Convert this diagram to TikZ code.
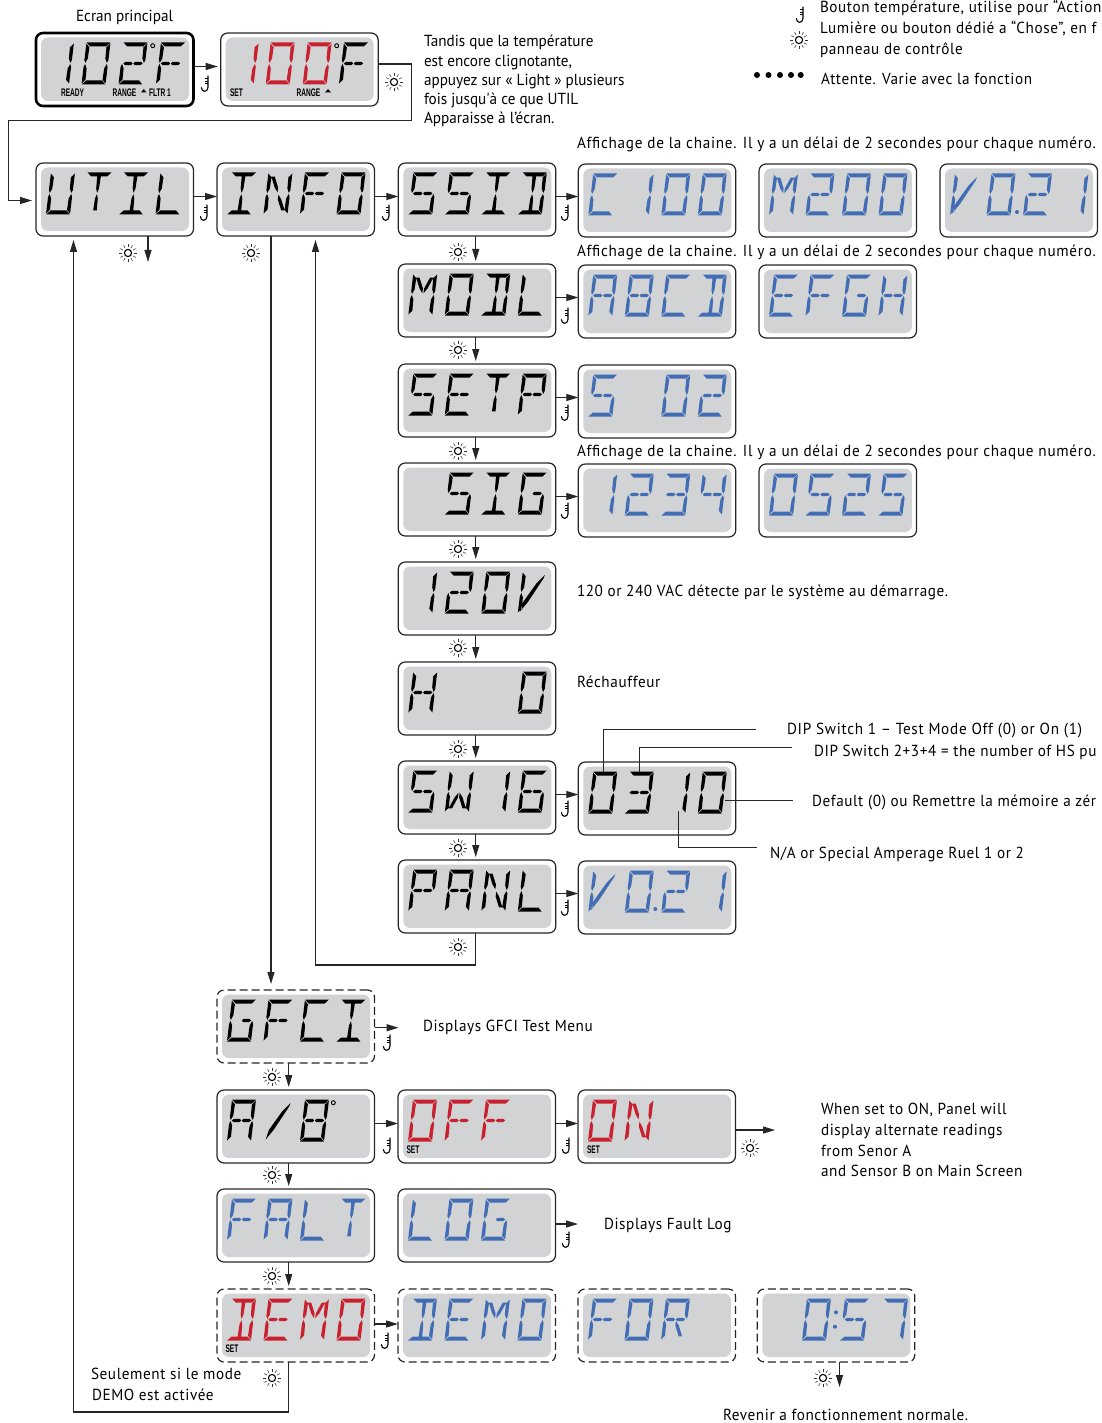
\documentclass[tikz,border=0pt]{standalone}
\usepackage{fontspec}
\usetikzlibrary{arrows.meta}
\setmainfont[FakeStretch=0.95,LetterSpace=3.7]{PT Sans}
\newfontfamily\narrowfont[FakeStretch=0.95]{PT Sans}
\newfontfamily\widefont[FakeStretch=0.95,LetterSpace=4.5]{PT Sans}
\newfontfamily\tagfont[FakeStretch=0.6]{Liberation Sans}
\definecolor{lcdgrey}{HTML}{D1D3D4}
\definecolor{lcdblue}{HTML}{426DB4}
\definecolor{lcdred}{HTML}{C8202E}
\tikzset{
  x=1pt,y=-1pt,
  every node/.style={inner sep=0pt,outer sep=0pt},
  panel/.style={draw=black!85,line width=1.2pt,rounded corners=7pt,minimum width=157.5pt,minimum height=73pt,shape=rectangle},
  mainpanel/.style={panel,line width=2.6pt,draw=black},
  dashpanel/.style={panel,dash pattern=on 8pt off 4pt},
  link/.style={line width=1.1pt,draw=black!85},
  arr/.style={link,-{Triangle[length=12pt,width=7pt]}},
  callout/.style={line width=.8pt,draw=black!85},
  hookline/.style={line width=1.1pt,draw=black,line cap=round},
  rayline/.style={line width=.6pt,draw=black!80},
  body/.style={anchor=base west,font=\fontsize{16}{18}\selectfont,text=black},
  tag/.style={anchor=base west,font=\tagfont\bfseries\fontsize{11}{11}\selectfont,text=black},
}
% --- segments (local coords: width 24, height 42, top-left origin)
\def\sa{(0.2,0)--(23.8,0)--(20.2,4)--(4.2,4)--cycle }
\def\sd{(0.2,42)--(23.8,42)--(20.2,38)--(4.2,38)--cycle }
\def\sf{(0,1)--(3.5,4.8)--(3.2,16)--(1.2,20.5)--(0,17.5)--cycle }
\def\se{(0,24.5)--(1.2,21.5)--(3.2,26)--(3.5,37.2)--(0,41)--cycle }
\def\sb{(24,1)--(20.5,4.8)--(20.8,16)--(22.8,20.5)--(24,17.5)--cycle }
\def\sc{(24,24.5)--(22.8,21.5)--(20.8,26)--(20.5,37.2)--(24,41)--cycle }
\def\sgl{(2.4,21)--(4.2,19.4)--(10.2,19.4)--(11.6,21)--(10.2,22.6)--(4.2,22.6)--cycle }
\def\sgr{(12.4,21)--(13.8,19.4)--(19.8,19.4)--(21.6,21)--(19.8,22.6)--(13.8,22.6)--cycle }
\def\sh{(10.2,4.2)--(13.8,4.2)--(13.4,16)--(12,20.3)--(10.6,16)--cycle }
\def\sm{(12,21.7)--(13.4,26)--(13.8,37.8)--(10.2,37.8)--(10.6,26)--cycle }
\def\sk{(3.4,4.2)--(6.8,4.2)--(11.4,15)--(11.4,19.8)--(8,15)--cycle }
\def\sr{(20.6,4.2)--(17.2,4.2)--(12.6,15)--(12.6,19.8)--(16,15)--cycle }
\def\ss{(3.4,37.8)--(6.8,37.8)--(11.4,27)--(11.4,22.2)--(8,27)--cycle }
\def\st{(20.6,37.8)--(17.2,37.8)--(12.6,27)--(12.6,22.2)--(16,27)--cycle }
\def\sslash{(2,40)--(9,30)--(21.5,7)--(22.5,3.5)--(15,12)--(4,30.5)--cycle }
\expandafter\def\csname ch-\endcsname{}
\expandafter\def\csname ch0\endcsname{\sa\sb\sc\sd\se\sf}
\expandafter\def\csname ch1\endcsname{\sb\sc}
\expandafter\def\csname ch2\endcsname{\sa\sb\sgl\sgr\se\sd}
\expandafter\def\csname ch3\endcsname{\sa\sb\sgl\sgr\sc\sd}
\expandafter\def\csname ch4\endcsname{\sf\sgl\sgr\sb\sc}
\expandafter\def\csname ch5\endcsname{\sa\sf\sgl\sgr\sc\sd}
\expandafter\def\csname ch6\endcsname{\sa\sf\se\sd\sc\sgl\sgr}
\expandafter\def\csname ch7\endcsname{\sa\sb\sc}
\expandafter\def\csname chA\endcsname{\sa\sb\sc\se\sf\sgl\sgr}
\expandafter\def\csname chB\endcsname{\sa\sb\sc\sd\se\sf\sgl\sgr}
\expandafter\def\csname chC\endcsname{\sa\sd\se\sf}
\expandafter\def\csname chD\endcsname{\sa\sb\sc\sd\sh\sm}
\expandafter\def\csname chE\endcsname{\sa\sd\se\sf\sgl\sgr}
\expandafter\def\csname chF\endcsname{\sa\se\sf\sgl\sgr}
\expandafter\def\csname chG\endcsname{\sa\sc\sd\se\sf\sgr}
\expandafter\def\csname chH\endcsname{\sb\sc\se\sf\sgl\sgr}
\expandafter\def\csname chI\endcsname{\sa\sd\sh\sm}
\expandafter\def\csname chL\endcsname{\sd\se\sf}
\expandafter\def\csname chM\endcsname{\sb\sc\se\sf\sk\sr}
\expandafter\def\csname chN\endcsname{\sb\sc\se\sf\sk\st}
\expandafter\def\csname chO\endcsname{\sa\sb\sc\sd\se\sf}
\expandafter\def\csname chP\endcsname{\sa\sb\se\sf\sgl\sgr}
\expandafter\def\csname chR\endcsname{\sa\sb\se\sf\sgl\sgr\st}
\expandafter\def\csname chS\endcsname{\sa\sf\sgl\sgr\sc\sd}
\expandafter\def\csname chT\endcsname{\sa\sh\sm}
\expandafter\def\csname chU\endcsname{\sb\sc\sd\se\sf}
\expandafter\def\csname chV\endcsname{\sf\se\sslash}
\expandafter\def\csname chW\endcsname{\sb\sc\se\sf\ss\st}
\expandafter\def\csname ch/\endcsname{\sslash}
% \digit{x}{y}{colour}{char}
\newcommand\digit[4]{%
  \expandafter\let\expandafter\curpath\csname ch#4\endcsname
  \fill[#3,shift={(#1,#2)},xslant=0.12] \curpath;}
% \panelbox{name}{x}{y}{style}
\newcommand\panelbox[4]{%
  \node[#4] (#1) at (#2+78.75,#3+36.5) {};
  \fill[lcdgrey,rounded corners=7pt] (#2+5,#3+4.5) rectangle (#2+153,#3+68);}
% \lcd{name}{x}{y}{style}{colour}{c1}{c2}{c3}{c4}
\newcommand\lcd[9]{%
  \panelbox{#1}{#2}{#3}{#4}%
  \digit{#2+15}{#3+9.5}{#5}{#6}%
  \digit{#2+51.5}{#3+9.5}{#5}{#7}%
  \digit{#2+88}{#3+9.5}{#5}{#8}%
  \digit{#2+124.5}{#3+9.5}{#5}{#9}}
\newcount\txtno
\newcommand\body[3]{\global\advance\txtno by 1 \node[body] (txt\the\txtno) at (#1,#2) {#3};}
\newcommand\tagt[3]{\global\advance\txtno by 1 \node[tag] (txt\the\txtno) at (#1,#2) {#3};}
% hook (temperature button) icon, centre x,y
\newcommand\hook[2]{\begin{scope}[shift={(#1,#2)}]
  \draw[hookline] (3,-8) -- (3,3.2) .. controls (3,8.6) and (-3.6,8.6) .. (-3.6,3.6);
  \draw[line width=.6pt] (0.4,-5.5)--(3,-5.5) (0.4,-3)--(3,-3) (0.4,-0.5)--(3,-0.5);
  \end{scope}}
% sun (light button) icon, centre x,y
\newcommand\sun[2]{\begin{scope}[shift={(#1,#2)}]
  \draw[line width=1.1pt] (0,0) circle[radius=3.6];
  \foreach \a in {0,30,...,330} \draw[rayline] (\a:6) -- (\a:8.8);
  \end{scope}}
\newcommand\harrow[2]{\draw[arr] ([yshift=3pt]#1.east) -- ([yshift=3pt]#1.east -| #2.west);}
\newcommand\varrow[2]{\draw[arr,shorten >=3pt] ([xshift=-1.3pt]#1.south) -- ([xshift=-1.3pt]#1.south |- #2.north);}
\begin{document}
\begin{tikzpicture}
\useasboundingbox (0,0) rectangle (1101,1423);
% --- top row
\panelbox{main}{36}{33}{mainpanel}
\digit{50}{42.5}{black}{1}\digit{86.5}{42.5}{black}{0}\digit{123.5}{42.5}{black}{2}\digit{161}{42.5}{black}{F}
\draw[line width=.9pt] (152.7,45.7) circle[radius=2];
\tagt{61}{97}{READY}\tagt{112.5}{97}{RANGE}\tagt{149}{97}{FLTR\,1}
\fill (141,92.5)--(146.5,92.5)--(143.7,89)--cycle;
\panelbox{setp}{220.7}{33}{panel}
\digit{234.7}{42.5}{lcdred}{1}\digit{270.7}{42.5}{lcdred}{0}\digit{307.7}{42.5}{lcdred}{0}\digit{344}{42.5}{black}{F}
\draw[line width=.9pt] (336.7,45.7) circle[radius=2];
\tagt{230}{97}{SET}\tagt{296.5}{97}{RANGE}
\fill (325,92.5)--(331,92.5)--(328,89)--cycle;
% --- column 1
\lcd{util}{36}{163}{panel}{black}{U}{T}{I}{L}
\lcd{info}{217}{163}{panel}{black}{I}{N}{F}{0}
\lcd{ssid}{398.3}{163}{panel}{black}{S}{S}{I}{D}
\lcd{c100}{578.3}{164}{panel}{lcdblue}{C}{1}{0}{0}
\lcd{m200}{759}{164}{panel}{lcdblue}{M}{2}{0}{0}
\lcd{v021a}{940}{164}{panel}{lcdblue}{V}{0}{2}{1}
\fill[lcdblue] (940+77,164+48) circle[radius=2];
\lcd{modl}{398.3}{264}{panel}{black}{M}{0}{D}{L}
\lcd{abcd}{578.3}{265}{panel}{lcdblue}{A}{B}{C}{D}
\lcd{efgh}{759}{265}{panel}{lcdblue}{E}{F}{G}{H}
\lcd{setpp}{398.3}{364}{panel}{black}{S}{E}{T}{P}
\lcd{s02}{578.3}{365}{panel}{lcdblue}{S}{-}{0}{2}
\lcd{sig}{398.3}{463}{panel}{black}{-}{S}{I}{G}
\lcd{n1234}{578.3}{464}{panel}{lcdblue}{1}{2}{3}{4}
\lcd{n0525}{759}{464}{panel}{lcdblue}{0}{5}{2}{5}
\lcd{v120}{398.3}{562}{panel}{black}{1}{2}{0}{V}
\lcd{heat}{398.3}{662}{panel}{black}{H}{-}{-}{0}
\lcd{sw}{398.3}{761}{panel}{black}{S}{W}{1}{6}
\lcd{n0310}{578.3}{762}{panel}{black}{0}{3}{1}{0}
\lcd{panl}{398.3}{860}{panel}{black}{P}{A}{N}{L}
\lcd{v021b}{578.3}{861}{panel}{lcdblue}{V}{0}{2}{1}
\fill[lcdblue] (578.3+77,861+48) circle[radius=2];
% --- lower block
\lcd{gfci}{217}{990}{dashpanel}{black}{G}{F}{C}{I}
\lcd{ab}{217}{1090}{panel}{black}{A}{/}{B}{-}
\draw[line width=.9pt] (333.3,1102.7) circle[radius=2];
\lcd{off}{398}{1090}{panel}{lcdred}{0}{F}{F}{-}
\tagt{406.5}{1153.5}{SET}
\lcd{on}{578}{1090}{panel}{lcdred}{0}{N}{-}{-}
\tagt{587}{1153.5}{SET}
\lcd{falt}{217}{1189}{panel}{lcdblue}{F}{A}{L}{T}
\lcd{log}{398}{1189}{panel}{lcdblue}{L}{0}{G}{-}
\lcd{demo}{217}{1289}{dashpanel}{lcdred}{D}{E}{M}{0}
\tagt{225.5}{1352.5}{SET}
\lcd{demob}{398}{1289}{dashpanel}{lcdblue}{D}{E}{M}{0}
\lcd{for}{578}{1289}{dashpanel}{lcdblue}{F}{0}{R}{-}
\panelbox{time}{757.3}{1289}{dashpanel}
\digit{807}{1298.5}{lcdblue}{0}\digit{845}{1298.5}{lcdblue}{5}\digit{884}{1298.5}{lcdblue}{7}
\fill[lcdblue] (836,1312.3) circle[radius=2] (835,1326.7) circle[radius=2];
% --- named free ends
\coordinate (utilout) at (148,262);
\coordinate (utilin) at (73.5,240);
\coordinate (infoin) at (315.5,240);
\coordinate (gfciout) at (398.5,1027.7);
\coordinate (onout) at (775,1130);
\coordinate (logout) at (578,1224);
\coordinate (timeout) at (839.5,1387);
\coordinate (hop1) at (411.5,64);
\coordinate (hop2) at (411.5,120.7);
\coordinate (hop3) at (8.3,120.7);
\coordinate (hop4) at (8.3,200.5);
% --- connectors
\draw[arr,shorten >=3pt] ([yshift=3pt]main.east) -- ([yshift=3pt]main.east -| setp.west);
\draw[arr] (setp.east |- hop1) -- (hop1) -- (hop2) -- (hop3) -- (hop4) -- ([xshift=-4pt]hop4 -| util.west);
\harrow{util}{info}\harrow{info}{ssid}\harrow{ssid}{c100}
\harrow{modl}{abcd}\harrow{setpp}{s02}\harrow{sig}{n1234}
\harrow{sw}{n0310}\harrow{panl}{v021b}
\varrow{ssid}{modl}\varrow{modl}{setpp}\varrow{setpp}{sig}\varrow{sig}{v120}
\varrow{v120}{heat}\varrow{heat}{sw}\varrow{sw}{panl}
\draw[arr] (util.south -| utilout) -- (utilout);
\draw[arr] (infoin |- panl.south) ++(160.2,0) coordinate (panlout) -- ++(0,32) coordinate (panlturn) -- (infoin |- panlturn) -- (infoin);
\draw[arr,shorten >=6pt] (info.south -| 271,0) -- (271,0 |- gfci.north);
\draw[arr,shorten >=3pt] (288.7,0 |- gfci.south) -- (288.7,0 |- ab.north);
\draw[arr,shorten >=3pt] (288.7,0 |- ab.south) -- (288.7,0 |- falt.north);
\draw[arr,shorten >=3pt] (288.7,0 |- falt.south) -- (288.7,0 |- demo.north);
\draw[arr] (288.7,0 |- demo.south) -- (288.7,1412) -- (73.5,1412) -- (utilin);
\draw[arr] (gfci.east |- gfciout) -- (gfciout);
\harrow{ab}{off}\harrow{off}{on}
\draw[arr] (on.east |- onout) -- (onout);
\draw[arr] (log.east |- logout) -- (logout);
\draw[arr] (demo.east |- 0,1324) -- (demob.west |- 0,1324);
\draw[arr] (timeout |- time.south) -- (timeout);
% --- callouts on 03 10
\coordinate (c1a) at (603.3,771.7);\coordinate (c1b) at (603.3,729.5);\coordinate (c1c) at (756,729.5);
\coordinate (c2a) at (639.3,771.7);\coordinate (c2b) at (639.3,747.7);\coordinate (c2c) at (792,747.7);
\coordinate (c3a) at (725,800.5);\coordinate (c3c) at (793,800.5);
\coordinate (c4a) at (678.7,811);\coordinate (c4b) at (678.7,847);\coordinate (c4c) at (757,847);
\draw[callout] (c1a)--(c1b)--(c1c);
\draw[callout] (c2a)--(c2b)--(c2c);
\draw[callout] (c3a)--(c3c);
\draw[callout] (c4a)--(c4b)--(c4c);
% --- icons
\foreach \p/\q in {205/84,204/213,386/213,565/213,565/316,565/413,565/511,565/809,565/908,387/1043,387/1146,566/1146,566/1240,385/1341,800/15}{\hook{\p}{\q}}
\foreach \p/\q in {394/82,128/253,251/253,458/252,458/350,458/451,458/549,458/648,458/749,458/848,458/947,272/1077,272/1175,750/1148,272/1276,272/1378,823/1378,799/40}{\sun{\p}{\q}}
\foreach \p in {757,768.5,780,791,800.7}{\fill (\p,75) circle[radius=3];}
% --- text
\body{76}{22}{\narrowfont Ecran principal}
\body{424}{47}{\narrowfont Tandis que la température}
\body{424}{66.5}{\narrowfont est encore clignotante,}
\body{424}{86}{\narrowfont appuyez sur « Light » plusieurs}
\body{424}{105}{\narrowfont fois jusqu'à ce que UTIL}
\body{424}{124}{\narrowfont Apparaisse à l’écran.}
\body{820}{13}{Bouton température, utilise pour “Action}
\body{820}{34}{Lumière ou bouton dédié a “Chose”, en f}
\body{820}{55}{panneau de contrôle}
\body{821}{85}{Attente. Varie avec la fonction}
\body{577}{149}{\widefont Affichage de la chaine. Il y a un délai de 2 secondes pour chaque numéro.}
\body{577}{257}{\widefont Affichage de la chaine. Il y a un délai de 2 secondes pour chaque numéro.}
\body{577}{456}{\widefont Affichage de la chaine. Il y a un délai de 2 secondes pour chaque numéro.}
\body{577}{596}{120 or 240 VAC détecte par le système au démarrage.}
\body{577}{687}{Réchauffeur}
\body{787}{734}{\widefont DIP Switch 1 – Test Mode Off (0) or On (1)}
\body{814}{756}{DIP Switch 2+3+4 = the number of HS pu}
\body{812}{806}{Default (0) ou Remettre la mémoire a zér}
\body{770}{858}{N/A or Special Amperage Ruel 1 or 2}
\body{423}{1031}{Displays GFCI Test Menu}
\body{821}{1114}{When set to ON, Panel will}
\body{821}{1135}{display alternate readings}
\body{821}{1156}{from Senor A}
\body{821}{1176}{and Sensor B on Main Screen}
\body{604}{1229}{Displays Fault Log}
\body{91}{1379}{Seulement si le mode}
\body{92}{1400}{DEMO est activée}
\body{723}{1420}{Revenir a fonctionnement normale.}
\end{tikzpicture}
\end{document}
